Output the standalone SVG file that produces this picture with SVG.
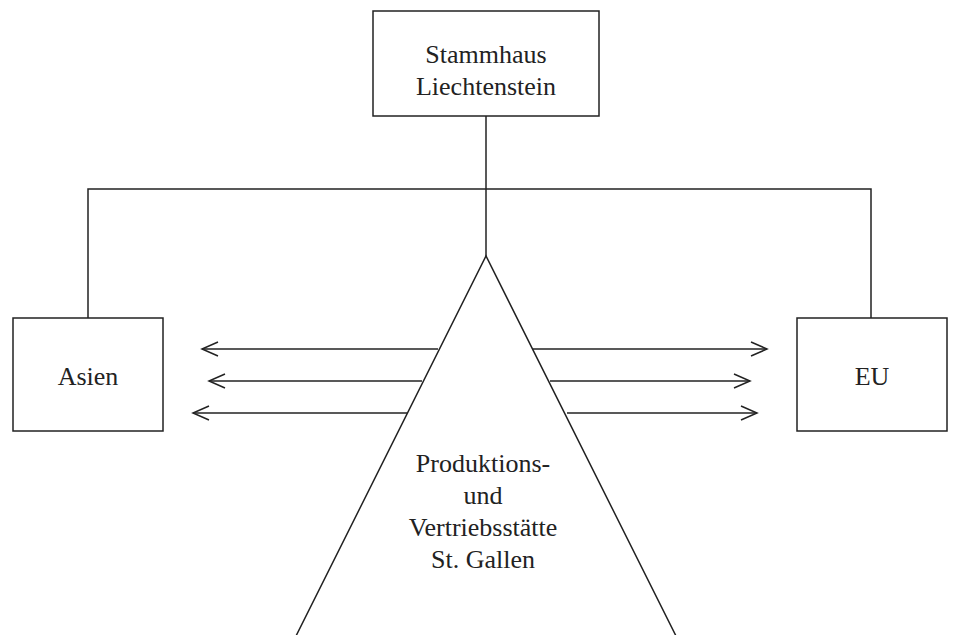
<svg xmlns="http://www.w3.org/2000/svg" width="953" height="635" viewBox="0 0 953 635">
<defs>
<style>
.box{fill:#fff;stroke:#222;stroke-width:1.5}
.ln{fill:none;stroke:#222;stroke-width:1.5}
.t{font-family:"Liberation Serif","Times New Roman",serif;font-size:26px;fill:#222;text-anchor:middle}
</style>
<marker id="ah" viewBox="0 0 20 20" refX="18" refY="10" markerWidth="20" markerHeight="20" markerUnits="userSpaceOnUse" orient="auto-start-reverse">
<path d="M2,3 L18,10 L2,17" fill="none" stroke="#222" stroke-width="1.5"/>
</marker>
</defs>
<rect width="953" height="635" fill="#fff"/>
<g id="connectors">
<path class="ln" d="M486,116 V256"/>
<path class="ln" d="M88,318 V189 H871 V318"/>
<line class="ln" x1="438" y1="349" x2="202" y2="349" marker-end="url(#ah)"/>
<line class="ln" x1="422" y1="381" x2="209" y2="381" marker-end="url(#ah)"/>
<line class="ln" x1="407" y1="413" x2="193" y2="413" marker-end="url(#ah)"/>
<line class="ln" x1="533" y1="349" x2="767" y2="349" marker-end="url(#ah)"/>
<line class="ln" x1="550" y1="381" x2="750" y2="381" marker-end="url(#ah)"/>
<line class="ln" x1="567" y1="413" x2="757" y2="413" marker-end="url(#ah)"/>
</g>
<g id="stammhaus">
<rect class="box" x="373" y="11" width="226" height="105"/>
<text class="t" x="486" y="63">Stammhaus</text>
<text class="t" x="486" y="95">Liechtenstein</text>
</g>
<g id="asien">
<rect class="box" x="13" y="318" width="150" height="113"/>
<text class="t" x="88" y="385">Asien</text>
</g>
<g id="eu">
<rect class="box" x="797" y="318" width="150" height="113"/>
<text class="t" x="872" y="385">EU</text>
</g>
<g id="produktion">
<path class="ln" d="M296,636 L486,256 L676,636"/>
<text class="t" x="483" y="472">Produktions-</text>
<text class="t" x="483" y="504">und</text>
<text class="t" x="483" y="536">Vertriebsstätte</text>
<text class="t" x="483" y="568">St. Gallen</text>
</g>
</svg>
